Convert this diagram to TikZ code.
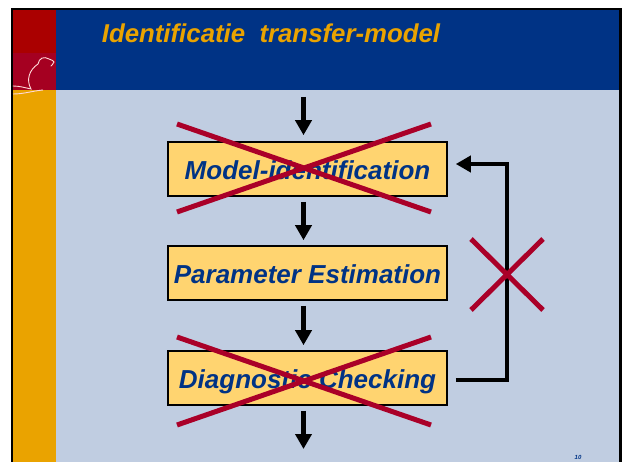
\documentclass[tikz,border=0pt]{standalone}
\usepackage{fontspec}
\setmainfont{Liberation Sans}
\usetikzlibrary{arrows.meta}
\definecolor{slidered}{RGB}{170,0,0}
\definecolor{slidecrim}{RGB}{165,0,33}
\definecolor{slideorange}{RGB}{234,163,0}
\definecolor{slideblue}{RGB}{0,51,133}
\definecolor{slidepale}{RGB}{192,205,225}
\definecolor{boxfill}{RGB}{255,212,112}
\definecolor{crossred}{RGB}{170,0,40}
\tikzset{
    stepbox/.style={draw=black, line width=1.6pt, fill=boxfill, minimum width=279pt, minimum height=54pt,
        inner sep=0pt, text height=21pt, text depth=0pt, text=slideblue, font=\bfseries\itshape\fontsize{26}{26}\selectfont},
    flow/.style={line width=4.6pt, -{Triangle[length=15pt,width=16pt]}},
    crossline/.style={draw=crossred, line width=5pt}
}
\begin{document}
\begin{tikzpicture}[x=1pt,y=-1pt]
    \useasboundingbox (0,0) rectangle (623,462);
    \fill[white] (0,0) rectangle (623,462);
    \fill[slidepale] (13,10) rectangle (620,462);
    \fill[slideblue] (56,10) rectangle (620,90);
    \fill[slidered] (13,10) rectangle (56,53);
    \fill[slidecrim] (13,53) rectangle (56,90);
    \fill[slideorange] (13,90) rectangle (56,462);
    \draw[line width=2.5pt] (12,462) -- (12,9) -- (620.5,9) -- (620.5,462);
    % beaver
    \draw[white!85!red, line width=0.9pt, line cap=round] (13,86) .. controls (20,86) and (26,88) .. (31,89)
        .. controls (26,80) and (29,70) .. (38,64) .. controls (39,58) and (44,56) .. (49,59)
        .. controls (52,60) and (54,61) .. (54,62) .. controls (53,64) and (52,65) .. (51,66);
    \draw[white!85!red, line width=0.9pt] (13,94) .. controls (24,94) and (32,91) .. (43,90);
    \node[text=slideorange, font=\bfseries\itshape\fontsize{25.8}{26}\selectfont] (title) at (271,33) {Identificatie\ \ transfer-model};
    \node[stepbox] (model) at (307.5,169) {Model-identification};
    \node[stepbox] (param) at (307.5,273) {Parameter Estimation};
    \node[stepbox] (diag) at (307.5,378) {Diagnostic Checking};
    \node[text=slideblue, font=\bfseries\itshape\fontsize{6}{6}\selectfont] (pagenum) at (578,457) {10};
    \coordinate (in) at (303.5,97);
    \coordinate (out) at (303.5,449);
    \coordinate (bend1) at (507,380);
    \coordinate (bend2) at (507,164);
    % arrows between the boxes
    \draw[flow, shorten >=6pt] (in) -- (in |- model.north);
    \draw[flow, shorten <=5pt, shorten >=5pt] (in |- model.south) -- (in |- param.north);
    \draw[flow, shorten <=5pt, shorten >=5pt] (in |- param.south) -- (in |- diag.north);
    \draw[flow, shorten <=5pt] (in |- diag.south) -- (out);
    \draw[flow, shorten >=8pt, shorten <=8pt] (diag.east |- bend1) -- (bend1) -- (bend2) -- (model.east |- bend2);
    % crossed out
    \foreach \y in {168,381} {
        \draw[crossline] (177,\y-44) -- (431,\y+44);
        \draw[crossline] (431,\y-44) -- (177,\y+44);
    }
    \draw[crossline] (471,239) -- (543,310);
    \draw[crossline] (543,239) -- (471,310);
\end{tikzpicture}
\end{document}
